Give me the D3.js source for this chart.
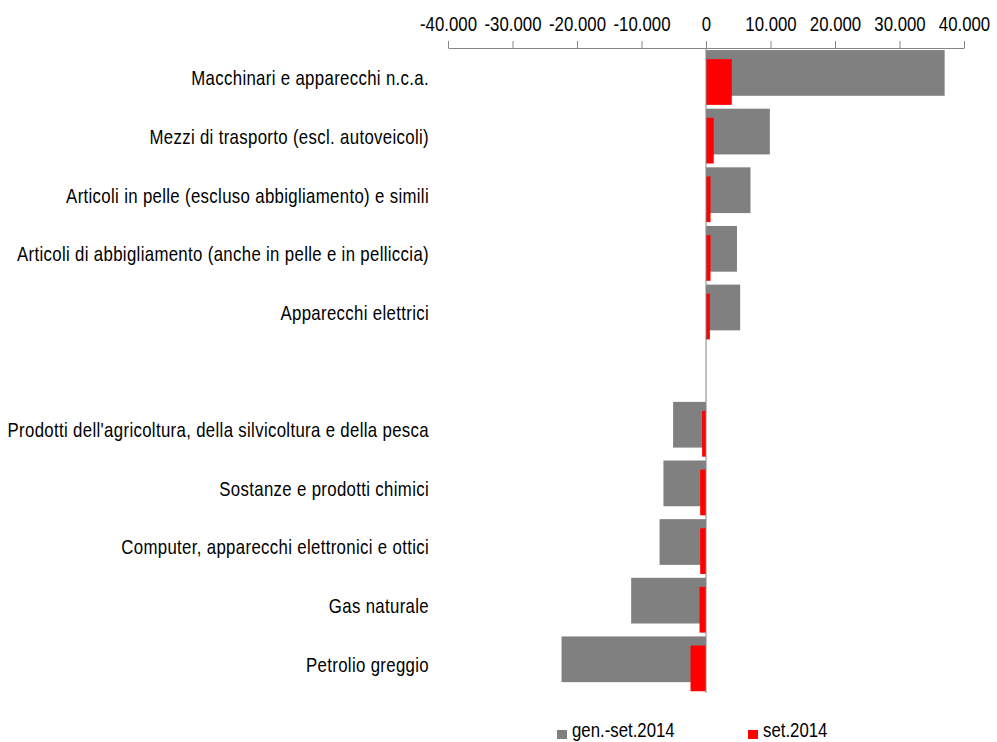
<!DOCTYPE html>
<html>
<head>
<meta charset="utf-8">
<script src="https://cdn.jsdelivr.net/npm/d3@7"></script>
<style>
  html, body { margin: 0; padding: 0; background: #fff; }
  svg { display: block; }
  svg text { font-family: "Liberation Sans", Arial, sans-serif; }
</style>
</head>
<body>
<svg id="chart" width="997" height="742"></svg>
<script>
const categories = [
  "Macchinari e apparecchi n.c.a.",
  "Mezzi di trasporto (escl. autoveicoli)",
  "Articoli in pelle (escluso abbigliamento) e simili",
  "Articoli di abbigliamento (anche in pelle e in pelliccia)",
  "Apparecchi elettrici",
  "",
  "Prodotti dell'agricoltura, della silvicoltura e della pesca",
  "Sostanze e prodotti chimici",
  "Computer, apparecchi elettronici e ottici",
  "Gas naturale",
  "Petrolio greggio"
];
const genSet2014 = [37000, 9900, 6900, 4800, 5300, null, -5100, -6600, -7200, -11600, -22400];
const set2014 = [4000, 1200, 700, 700, 600, null, -600, -900, -900, -1000, -2400];
const seriesNames = ["gen.-set.2014", "set.2014"];
const seriesColors = ["#808080", "#ff0000"];
const tickValues = [-40000, -30000, -20000, -10000, 0, 10000, 20000, 30000, 40000];

const svg = d3.select("#chart");
const locale = d3.formatLocale({decimal: ",", thousands: ".", grouping: [3], currency: ["", ""], minus: "-"});
const fmt = locale.format(",d");
const FS = "20px";
const SX = 0.84; // horizontal condensing of text

const x = d3.scaleLinear().domain([-40000, 40000]).range([448, 964]);
const y = d3.scaleBand().domain(d3.range(categories.length)).range([48, 693]).paddingInner(0).paddingOuter(0);
const bw = y.bandwidth();
const grayOff = bw * 0.035, redOff = bw * 0.19, barH = bw * 0.78;

// axis
const axis = d3.axisTop(x).tickValues(tickValues).tickFormat(fmt).tickSizeInner(7).tickSizeOuter(0).tickPadding(0);
const ag = svg.append("g").attr("transform", "translate(0,48)").call(axis);
ag.select(".domain").attr("stroke", "#868686");
ag.selectAll(".tick line").attr("stroke", "#868686");
ag.selectAll(".tick text").attr("fill", "#000").style("font-size", FS)
  .attr("y", 0).attr("dy", 0)
  .attr("transform", `translate(0,-17) scale(${SX},1)`);

// bars
const idx = d3.range(categories.length);
svg.append("g").selectAll("rect").data(idx.filter(i => genSet2014[i] != null)).join("rect")
  .attr("x", i => x(Math.min(0, genSet2014[i])))
  .attr("width", i => Math.abs(x(genSet2014[i]) - x(0)))
  .attr("y", i => y(i) + grayOff)
  .attr("height", barH)
  .attr("fill", seriesColors[0]);
svg.append("g").selectAll("rect").data(idx.filter(i => set2014[i] != null)).join("rect")
  .attr("x", i => x(Math.min(0, set2014[i])))
  .attr("width", i => Math.abs(x(set2014[i]) - x(0)))
  .attr("y", i => y(i) + redOff)
  .attr("height", barH)
  .attr("fill", seriesColors[1]);

// zero line
svg.append("line").attr("x1", x(0)).attr("x2", x(0)).attr("y1", 48).attr("y2", 693)
  .attr("stroke", "#868686").attr("stroke-width", 1);

// category labels
svg.append("g").selectAll("text").data(idx).join("text")
  .attr("transform", i => `translate(429,${y(i) + bw / 2 + 8}) scale(${SX},1)`)
  .attr("text-anchor", "end")
  .style("font-size", FS).style("letter-spacing", "0.4px").attr("fill", "#000")
  .text(i => categories[i]);

// legend
const legendX = [557, 748];
const lg = svg.append("g");
seriesNames.forEach((n, k) => {
  lg.append("rect").attr("x", legendX[k]).attr("y", 730).attr("width", 10).attr("height", 9).attr("fill", seriesColors[k]);
  lg.append("text").attr("transform", `translate(${legendX[k] + 15},737) scale(${SX},1)`)
    .style("font-size", FS).attr("fill", "#000").text(n);
});
</script>
</body>
</html>
